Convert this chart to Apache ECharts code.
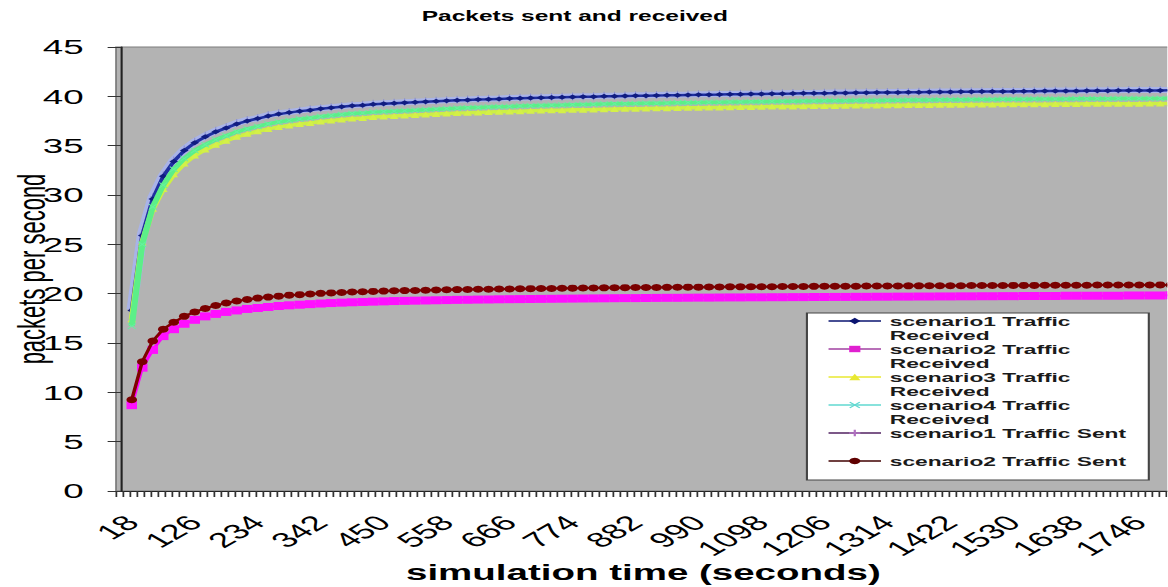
<!DOCTYPE html>
<html><head><meta charset="utf-8">
<script src="https://cdn.jsdelivr.net/npm/echarts@6/dist/echarts.min.js"></script>
<style>
html,body{margin:0;padding:0;background:#fff;overflow:hidden}
#wrap{width:1168px;height:587px;overflow:hidden;position:relative}
#chart{width:667.43px;height:587px;transform:scaleX(1.75);transform-origin:0 0}
</style>
</head><body><div id="wrap"><div id="chart"></div></div>
<script>
// simulation time (seconds) of each sample
const times = [18,36,54,72,90,108,126,144,162,180,198,216,234,252,270,288,306,324,342,360,
378,396,414,432,450,468,486,504,522,540,558,576,594,612,630,648,666,684,702,720,
738,756,774,792,810,828,846,864,882,900,918,936,954,972,990,1008,1026,1044,1062,1080,
1098,1116,1134,1152,1170,1188,1206,1224,1242,1260,1278,1296,1314,1332,1350,1368,1386,1404,1422,1440,
1458,1476,1494,1512,1530,1548,1566,1584,1602,1620,1638,1656,1674,1692,1710,1728,1746,1764,1782,1800];
const xLabels = [18,126,234,342,450,558,666,774,882,990,1098,1206,1314,1422,1530,1638,1746];

const s1Received = [18.3,25.9,29.6,31.9,33.4,34.5,35.3,35.9,36.4,36.8,
37.2,37.5,37.75,38.0,38.2,38.35,38.5,38.6,38.75,38.85,
38.95,39.05,39.1,39.2,39.25,39.3,39.35,39.4,39.45,39.5,
39.55,39.6,39.63,39.67,39.7,39.74,39.77,39.8,39.83,39.86,
39.88,39.9,39.93,39.95,39.97,40.0,40.02,40.04,40.05,40.07,
40.09,40.1,40.12,40.14,40.15,40.17,40.18,40.2,40.21,40.23,
40.24,40.26,40.27,40.28,40.3,40.31,40.32,40.33,40.35,40.36,
40.37,40.38,40.39,40.4,40.41,40.42,40.43,40.44,40.45,40.46,
40.47,40.48,40.49,40.5,40.5,40.51,40.52,40.53,40.54,40.54,
40.55,40.56,40.57,40.57,40.58,40.59,40.59,40.6,40.6,40.61];

const s2Received = [8.7,12.5,14.3,15.7,16.4,16.95,17.35,17.7,17.95,18.15,
18.3,18.45,18.55,18.65,18.75,18.82,18.88,18.94,19.0,19.05,
19.09,19.13,19.16,19.19,19.22,19.25,19.27,19.29,19.31,19.33,
19.35,19.37,19.38,19.4,19.41,19.43,19.44,19.45,19.46,19.47,
19.48,19.49,19.5,19.51,19.52,19.53,19.54,19.55,19.55,19.56,
19.57,19.58,19.58,19.59,19.6,19.6,19.61,19.62,19.62,19.63,
19.63,19.64,19.64,19.65,19.65,19.66,19.66,19.67,19.67,19.68,
19.68,19.69,19.69,19.7,19.7,19.71,19.71,19.72,19.72,19.73,
19.73,19.74,19.74,19.75,19.75,19.76,19.76,19.77,19.77,19.78,
19.78,19.79,19.79,19.8,19.8,19.81,19.81,19.82,19.82,19.83];

const s3Received = [17.4,25.2,28.6,30.6,32.1,33.2,34.0,34.6,35.1,35.5,
35.9,36.2,36.45,36.7,36.9,37.05,37.2,37.3,37.45,37.55,
37.65,37.75,37.8,37.9,37.95,38.0,38.05,38.1,38.15,38.2,
38.25,38.3,38.33,38.37,38.4,38.44,38.47,38.5,38.53,38.56,
38.58,38.6,38.63,38.65,38.67,38.7,38.72,38.74,38.75,38.77,
38.79,38.8,38.82,38.84,38.85,38.87,38.88,38.9,38.91,38.93,
38.94,38.96,38.97,38.98,39.0,39.01,39.02,39.03,39.05,39.06,
39.07,39.08,39.09,39.1,39.11,39.12,39.13,39.14,39.15,39.15,
39.16,39.17,39.18,39.19,39.19,39.2,39.21,39.21,39.22,39.22,
39.23,39.24,39.24,39.25,39.25,39.26,39.26,39.27,39.27,39.28];

const s4Received = [16.7,25.0,28.8,31.0,32.6,33.7,34.5,35.1,35.6,36.0,
36.4,36.7,36.95,37.2,37.4,37.55,37.7,37.8,37.95,38.05,
38.15,38.25,38.3,38.4,38.45,38.5,38.55,38.6,38.65,38.7,
38.75,38.8,38.84,38.88,38.92,38.95,38.98,39.02,39.05,39.08,
39.1,39.12,39.15,39.17,39.19,39.22,39.24,39.26,39.27,39.29,
39.31,39.32,39.34,39.36,39.37,39.39,39.4,39.42,39.43,39.45,
39.46,39.48,39.49,39.5,39.52,39.53,39.54,39.55,39.56,39.57,
39.58,39.59,39.6,39.61,39.62,39.63,39.64,39.65,39.66,39.66,
39.67,39.68,39.69,39.7,39.7,39.71,39.72,39.73,39.73,39.74,
39.75,39.75,39.76,39.76,39.77,39.78,39.78,39.79,39.79,39.8];

const s1Sent = [18.4,26.1,29.8,32.0,33.5,34.6,35.4,36.0,36.5,36.9,
37.3,37.6,37.8,38.1,38.3,38.4,38.55,38.7,38.8,38.9,
39.0,39.1,39.15,39.25,39.3,39.35,39.4,39.45,39.5,39.55,
39.6,39.65,39.68,39.72,39.75,39.78,39.82,39.85,39.88,39.9,
39.93,39.95,39.98,40.0,40.02,40.05,40.07,40.08,40.1,40.12,
40.13,40.15,40.17,40.18,40.2,40.21,40.23,40.24,40.26,40.27,
40.29,40.3,40.31,40.33,40.34,40.35,40.37,40.38,40.39,40.4,
40.41,40.42,40.43,40.44,40.45,40.46,40.47,40.48,40.49,40.5,
40.51,40.52,40.53,40.54,40.54,40.55,40.56,40.57,40.58,40.58,
40.59,40.6,40.61,40.61,40.62,40.63,40.63,40.64,40.64,40.65];

const s2Sent = [9.25,13.1,15.2,16.4,17.1,17.7,18.15,18.5,18.8,19.05,
19.25,19.4,19.55,19.65,19.75,19.85,19.9,19.97,20.03,20.08,
20.12,20.16,20.2,20.23,20.26,20.29,20.31,20.33,20.35,20.37,
20.39,20.41,20.42,20.44,20.45,20.47,20.48,20.5,20.51,20.52,
20.53,20.55,20.56,20.57,20.58,20.59,20.6,20.61,20.62,20.62,
20.63,20.64,20.65,20.66,20.66,20.67,20.68,20.69,20.69,20.7,
20.71,20.71,20.72,20.73,20.73,20.74,20.75,20.75,20.76,20.76,
20.77,20.77,20.78,20.78,20.79,20.79,20.8,20.8,20.81,20.81,
20.82,20.82,20.83,20.83,20.84,20.84,20.84,20.85,20.85,20.86,
20.86,20.86,20.87,20.87,20.87,20.88,20.88,20.88,20.89,20.89];

const pairs = vals => times.map((t, i) => [t, vals[i]]);
const FONT = 'Liberation Sans, Arial, sans-serif';
const PLUS = 'path://M4,0H6V4H10V6H6V10H4V6H0V4H4Z';
const CROSS = 'path://M1,0L5,4L9,0L10,1L6,5L10,9L9,10L5,6L1,10L0,9L4,5L0,1Z';

const tickVals = [];
for (let v = -9; v <= 1800; v += 12) tickVals.push(v);

function lineSeries(name, vals, color, lineW, symbol, size, symColor, z) {
  return {
    name, type: 'line', data: pairs(vals), z,
    symbol, symbolSize: size, showSymbol: true,
    lineStyle: { color, width: lineW },
    itemStyle: { color: symColor, borderWidth: 0 },
    emphasis: { disabled: true }, animation: false, clip: true
  };
}

const chart = echarts.init(document.getElementById('chart'), null, { renderer: 'svg' });
chart.setOption({
  animation: false,
  backgroundColor: '#ffffff',
  title: {
    text: 'Packets sent and received', left: 236, top: 4,
    textStyle: { fontFamily: FONT, fontSize: 14, fontWeight: 'bold', color: '#000' }
  },
  grid: { left: 66.3, right: -2, top: 47, bottom: 96, show: true,
    backgroundColor: '#b3b3b3', borderColor: '#7c7c7c', borderWidth: 1,
    containLabel: false, outerBoundsMode: 'none' },
  xAxis: {
    type: 'value', min: -9, max: 1800,
    name: 'simulation time (seconds)', nameLocation: 'middle', nameGap: 71,
    nameMoveOverlap: false,
    nameTextStyle: { fontFamily: FONT, fontSize: 22, fontWeight: 'bold', color: '#000' },
    axisLine: { show: true, onZero: false, lineStyle: { color: '#222', width: 1.2 } },
    axisTick: { show: true, length: 6, customValues: tickVals, lineStyle: { color: '#333', width: 1 } },
    axisLabel: { customValues: xLabels, rotate: 45, margin: 28, fontFamily: FONT, fontSize: 21, color: '#000',
      formatter: v => String(v) },
    splitLine: { show: false }
  },
  yAxis: {
    type: 'value', min: 0, max: 45, interval: 5,
    name: 'packets per second', nameLocation: 'middle', nameRotate: 90, nameGap: 37,
    nameMoveOverlap: false,
    nameTextStyle: { fontFamily: FONT, fontSize: 22, color: '#000' },
    axisLine: { show: true, lineStyle: { color: '#222', width: 1.2 } },
    axisTick: { show: true, length: 7.8, lineStyle: { color: '#333', width: 1 } },
    axisLabel: { margin: 18.5, fontFamily: FONT, fontSize: 21, color: '#000' },
    splitLine: { show: false }
  },
  legend: {
    orient: 'vertical', left: 461.1, top: 313, itemGap: -14,
    padding: [-13, 12.9, -2, 11.6], itemWidth: 30, itemHeight: 8,
    backgroundColor: '#ffffff', borderColor: '#444', borderWidth: 1.2,
    selectedMode: false,
    formatter: n => n.endsWith(' Received') ? '\n' + n.replace(' Received', '\nReceived') : '\n' + n + '\n ',
    textStyle: { fontFamily: FONT, fontSize: 13, fontWeight: 'bold', lineHeight: 14, color: '#1a1a1a' },
    data: [
      { name: 'scenario1 Traffic Received', itemStyle: { color: '#0a1470' }, lineStyle: { color: '#0a1470', width: 1.5 } },
      { name: 'scenario2 Traffic Received', itemStyle: { color: '#e020d0' }, lineStyle: { color: '#a040a0', width: 1.5 } },
      { name: 'scenario3 Traffic Received', itemStyle: { color: '#e8e830' }, lineStyle: { color: '#e8e830', width: 1.5 } },
      { name: 'scenario4 Traffic Received', itemStyle: { color: '#60d8d0' }, lineStyle: { color: '#60d8d0', width: 1.5 } },
      { name: 'scenario1 Traffic Sent', itemStyle: { color: '#b070c0' }, lineStyle: { color: '#502060', width: 1.5 } },
      { name: 'scenario2 Traffic Sent', itemStyle: { color: '#600000' }, lineStyle: { color: '#400000', width: 1.5 } }
    ]
  },
  series: [
    lineSeries('scenario1 Traffic Sent', s1Sent, '#a9b3e8', 6, PLUS, [3, 8], '#8a8fd0', 2),
    lineSeries('scenario1 Traffic Received', s1Received, '#1f2fa0', 2.5, 'diamond', [5, 5], '#101c80', 3),
    lineSeries('scenario3 Traffic Received', s3Received, '#cdef45', 3.5, 'triangle', [5, 6], '#d4f048', 4),
    lineSeries('scenario4 Traffic Received', s4Received, '#5cef88', 3.5, CROSS, [5, 6], '#66f0a0', 5),
    lineSeries('scenario2 Traffic Received', s2Received, '#ff00ff', 2, 'rect', [6, 8], '#ff10ff', 6),
    lineSeries('scenario2 Traffic Sent', s2Sent, '#800000', 2, 'circle', [6, 7], '#7a0000', 7)
  ]
});
</script>
</body></html>
